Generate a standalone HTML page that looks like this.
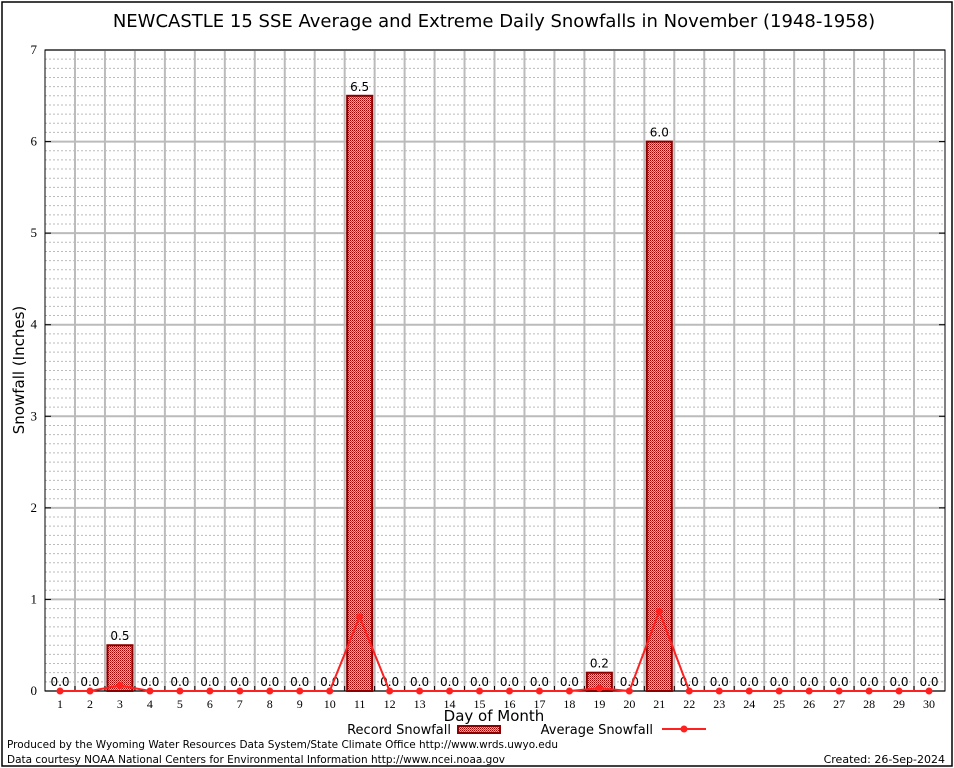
<!DOCTYPE html>
<html><head><meta charset="utf-8"><style>
body{margin:0;background:#fff;}
svg{display:block;font-family:"DejaVu Sans","Liberation Sans",sans-serif;}
</style></head><body>
<svg id="c" width="954" height="768"></svg>
<script>
const days=[1,2,3,4,5,6,7,8,9,10,11,12,13,14,15,16,17,18,19,20,21,22,23,24,25,26,27,28,29,30];
const recordVals=[0,0,0.5,0,0,0,0,0,0,0,6.5,0,0,0,0,0,0,0,0.2,0,6.0,0,0,0,0,0,0,0,0,0];
const avgVals=[0,0,0.06,0,0,0,0,0,0,0,0.81,0,0,0,0,0,0,0,0.03,0,0.87,0,0,0,0,0,0,0,0,0];
const yTicks=[0,1,2,3,4,5,6,7];

const NS="http://www.w3.org/2000/svg";
const svg=document.getElementById('c');
const L=45,R=945,T=50,B=691;
const x=d=>60+(d-1)*(869/29);
const y=v=>B-v*(B-T)/7;
function el(tag,attrs,parent){const e=document.createElementNS(NS,tag);for(const k in attrs)e.setAttribute(k,attrs[k]);(parent||svg).appendChild(e);return e;}

const defs=el('defs',{});
const pat=el('pattern',{id:'hatch',width:2,height:2,patternUnits:'userSpaceOnUse'},defs);
el('rect',{width:2,height:2,fill:'#e8b0b0'},pat);
el('rect',{width:1,height:1,fill:'#a00000'},pat);
el('rect',{x:1,y:1,width:1,height:1,fill:'#c04040'},pat);

const border=el('rect',{x:2,y:2,width:950,height:764,fill:'none',stroke:'#000','stroke-width':1.5});



const grid=el('g',{});


for(let v=0.1;v<7;v+=0.1){
  if(Math.abs(v-Math.round(v))<0.01)continue;
  el('line',{x1:L,x2:R,y1:y(v),y2:y(v),stroke:'#bbb','stroke-dasharray':'2,2','stroke-width':1},grid);
}
yTicks.forEach(t=>{el('line',{x1:L,x2:R,y1:y(t),y2:y(t),stroke:'#bbb','stroke-width':2},grid);});
for(let i=1;i<30;i++){const xx=x(i)+(x(2)-x(1))/2;el('line',{x1:xx,x2:xx,y1:T,y2:B,stroke:'#bbb','stroke-width':2},grid);}

const frame=el('rect',{x:L,y:T,width:R-L,height:B-T,fill:'none',stroke:'#000','stroke-width':1});



yTicks.forEach(t=>{
  el('line',{x1:L,x2:L+6,y1:y(t),y2:y(t),stroke:'#000'});
  el('line',{x1:R-6,x2:R,y1:y(t),y2:y(t),stroke:'#000'});
  const tl=el('text',{x:37,y:y(t)+4,'font-size':13,'text-anchor':'end','font-family':'Liberation Serif,serif'});
  tl.textContent=t;
  
  
});
days.forEach((d,i)=>{
  const xx=x(d)+(x(2)-x(1))/2;
  if(i<29)el('line',{x1:xx,x2:xx,y1:B-5,y2:B,stroke:'#000'});
  const tl=el('text',{x:x(d),y:B+17,'font-size':12,'text-anchor':'middle','font-family':'Liberation Serif,serif'});
  tl.textContent=d;
  
  
});

days.forEach((d,i)=>{
  const v=recordVals[i];
  if(v>0){
    const b=el('rect',{x:x(d)-12.5,y:y(v),width:25,height:B-y(v),fill:'url(#hatch)',stroke:'#8b0000','stroke-width':2});
    
    
  }
  const lb=el('text',{x:x(d),y:y(v)-5,'font-size':12,'text-anchor':'middle'});
  lb.textContent=v.toFixed(1);
  
  
});

const pts=days.map((d,i)=>x(d)+','+y(avgVals[i])).join(' ');
const line=el('polyline',{points:pts,fill:'none',stroke:'#ff2020','stroke-width':2});


days.forEach((d,i)=>{
  const p=el('circle',{cx:x(d),cy:y(avgVals[i]),r:3.5,fill:'#ff2020'});
  
  
});

function txt(s,a,name){const t=el('text',a);t.textContent=s;return t;}
txt('NEWCASTLE 15 SSE Average and Extreme Daily Snowfalls in November (1948-1958)',{x:494,y:27,'font-size':18,'text-anchor':'middle'},'chart-title');
txt('Snowfall (Inches)',{x:24,y:370,'font-size':15,'text-anchor':'middle',transform:'rotate(-90 24 370)'},'y-axis-title');
txt('Day of Month',{x:494,y:721,'font-size':15,'text-anchor':'middle'},'x-axis-title');
txt('Record Snowfall',{x:451,y:734,'font-size':13,'text-anchor':'end'},'legend-record-label');
const lr=el('rect',{x:458,y:726,width:42,height:7,fill:'url(#hatch)',stroke:'#8b0000','stroke-width':2});


txt('Average Snowfall',{x:653,y:734,'font-size':13,'text-anchor':'end'},'legend-average-label');
const ll=el('line',{x1:662,x2:706,y1:729,y2:729,stroke:'#ff2020','stroke-width':2});


el('circle',{cx:684,cy:729,r:3.5,fill:'#ff2020'});
txt('Produced by the Wyoming Water Resources Data System/State Climate Office http://www.wrds.uwyo.edu',{x:7,y:748,'font-size':11,textLength:551,lengthAdjust:'spacingAndGlyphs'},'credit-line-1');
txt('Data courtesy NOAA National Centers for Environmental Information http://www.ncei.noaa.gov',{x:7,y:763,'font-size':11,textLength:498,lengthAdjust:'spacingAndGlyphs'},'credit-line-2');
txt('Created: 26-Sep-2024',{x:945,y:763,'font-size':11,'text-anchor':'end'},'created-date');
</script>
</body></html>
